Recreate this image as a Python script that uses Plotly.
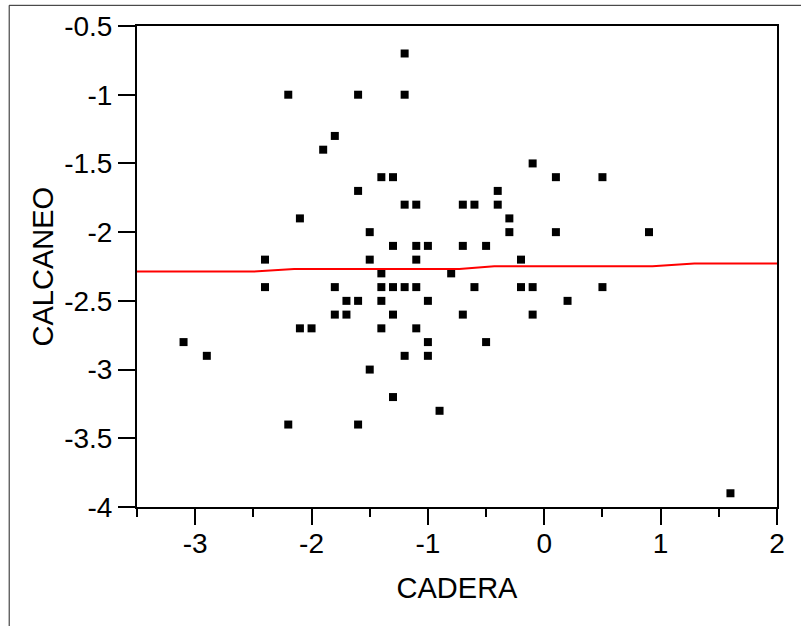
import plotly.graph_objects as go

# Scatter data: CADERA (x) vs CALCANEO (y)
cadera = [-1.2, -2.2, -1.6, -1.2, -1.8, -1.9, -1.4, -1.3, -1.6, -1.2, -1.1, -0.7,
          -2.1, -1.5, -1.3, -1.1, -1.0, -0.7, -0.5, -2.4, -1.5, -1.1, -0.2, -0.1,
          0.1, 0.5, -0.4, -0.6, -0.4, -0.3, -0.3, 0.1, 0.9, -1.4, -0.8, -2.4,
          -1.8, -1.4, -1.3, -1.2, -1.1, -0.6, -0.2, -0.1, 0.5, -1.7, -1.6, -1.4,
          -1.0, 0.2, -1.8, -1.7, -1.3, -0.7, -0.1, -2.1, -2.0, -1.4, -1.1, -3.1,
          -1.0, -0.5, -2.9, -1.2, -1.0, -1.5, -1.3, -0.9, -2.2, -1.6, 1.6]
calcaneo = [-0.7, -1.0, -1.0, -1.0, -1.3, -1.4, -1.6, -1.6, -1.7, -1.8, -1.8, -1.8,
            -1.9, -2.0, -2.1, -2.1, -2.1, -2.1, -2.1, -2.2, -2.2, -2.2, -2.2, -1.5,
            -1.6, -1.6, -1.7, -1.8, -1.8, -1.9, -2.0, -2.0, -2.0, -2.3, -2.3, -2.4,
            -2.4, -2.4, -2.4, -2.4, -2.4, -2.4, -2.4, -2.4, -2.4, -2.5, -2.5, -2.5,
            -2.5, -2.5, -2.6, -2.6, -2.6, -2.6, -2.6, -2.7, -2.7, -2.7, -2.7, -2.8,
            -2.8, -2.8, -2.9, -2.9, -2.9, -3.0, -3.2, -3.3, -3.4, -3.4, -3.9]

# Smoothed fit line (red)
fit_x = [-3.5, -2.5, -2.15, -0.73, -0.43, 0.93, 1.29, 2.0]
fit_y = [-2.287, -2.287, -2.268, -2.268, -2.249, -2.249, -2.229, -2.229]

# Tick labels and axis titles
x_tickvals = [-3, -2, -1, 0, 1, 2]
x_ticktext = ["-3", "-2", "-1", "0", "1", "2"]
y_tickvals = [-0.5, -1, -1.5, -2, -2.5, -3, -3.5, -4]
y_ticktext = ["-0.5", "-1", "-1.5", "-2", "-2.5", "-3", "-3.5", "-4"]
x_title = "CADERA"
y_title = "CALCANEO"

fig = go.Figure()
fig.add_trace(go.Scatter(
    x=cadera, y=calcaneo, mode="markers",
    marker=dict(symbol="square", size=8, color="black", line=dict(width=0)),
    showlegend=False, hoverinfo="x+y"))
fig.add_trace(go.Scatter(
    x=fit_x, y=fit_y, mode="lines",
    line=dict(color="#ff0000", width=2),
    showlegend=False))

font_family = "Liberation Sans, Arial, sans-serif"

fig.update_layout(
    width=801, height=626,
    margin=dict(l=137, r=24, t=26, b=119),
    paper_bgcolor="white", plot_bgcolor="white",
    font=dict(family=font_family, color="black", size=29),
    xaxis=dict(
        range=[-3.5, 2], tickvals=x_tickvals, ticktext=x_ticktext,
        showgrid=False, zeroline=False,
        showline=True, linecolor="black", linewidth=2, mirror=True,
        ticks="outside", ticklen=16, tickwidth=2, tickcolor="black",
        minor=dict(dtick=0.5, tick0=0, ticks="outside", ticklen=8, tickwidth=2,
                   tickcolor="black", showgrid=False),
        tickfont=dict(size=28), ticklabelstandoff=-6,
        title=dict(text=x_title, font=dict(size=29), standoff=20),
    ),
    yaxis=dict(
        range=[-4, -0.5], tickvals=y_tickvals, ticktext=y_ticktext,
        showgrid=False, zeroline=False,
        showline=True, linecolor="black", linewidth=2, mirror=True,
        ticks="outside", ticklen=17, tickwidth=2, tickcolor="black",
        tickfont=dict(size=28),
    ),
    annotations=[dict(text=y_title, xref="paper", yref="paper",
                      x=-0.147, y=0.5, xanchor="center", yanchor="middle",
                      textangle=-90, showarrow=False, font=dict(size=29))],
    shapes=[dict(type="rect", xref="paper", yref="paper",
                 x0=-0.1997, x1=1.06, y0=-0.27, y1=1.043,
                 line=dict(color="#222222", width=1), fillcolor="rgba(0,0,0,0)",
                 layer="below")],
)

fig.write_html("out.html", config={"displayModeBar": False},
               post_script="document.body.style.margin='0';")
